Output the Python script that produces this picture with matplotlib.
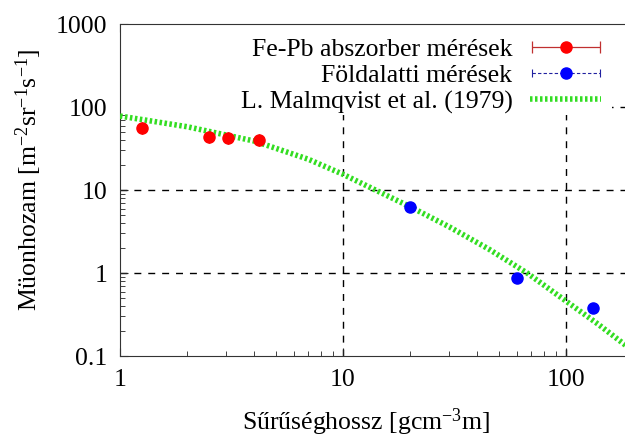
import matplotlib
matplotlib.use("Agg")
import matplotlib.pyplot as plt
from matplotlib.patches import Rectangle
from matplotlib.ticker import FixedLocator, LogLocator, NullFormatter
from matplotlib.legend_handler import HandlerErrorbar

plt.rcParams['font.family'] = ['Liberation Serif', 'DejaVu Serif']
plt.rcParams['mathtext.default'] = 'regular'

FS = 18.5

# Fe-Pb absorber measurements
fepb_x = [1.25, 2.5, 3.05, 4.2]
fepb_y = [56, 43.5, 42, 40]

# underground measurements
under_x = [20, 60, 132]
under_y = [6.2, 0.87, 0.38]

# Malmqvist et al. (1979) curve
malm_x = [1, 2, 4, 7, 10, 14, 20, 30, 45, 67, 100, 140, 200]
malm_y = [78, 58, 39, 23.5, 15.5, 10, 6.3, 3.6, 1.95, 1.0, 0.46, 0.24, 0.115]

fig = plt.figure(figsize=(6.25, 4.38), dpi=100)
ax = fig.add_axes([0.192, 0.187, 0.821, 0.758])

ax.set_xscale('log')
ax.set_yscale('log')
ax.set_xlim(1, 200)
ax.set_ylim(0.1, 1000)

ax.xaxis.set_major_locator(FixedLocator([1, 10, 100]))
ax.yaxis.set_major_locator(FixedLocator([0.1, 1, 10, 100, 1000]))
ax.xaxis.set_minor_locator(LogLocator(base=10, subs=range(2, 10)))
ax.yaxis.set_minor_locator(LogLocator(base=10, subs=range(2, 10)))
ax.xaxis.set_minor_formatter(NullFormatter())
ax.yaxis.set_minor_formatter(NullFormatter())
ax.set_xticklabels(['1', '10', '100'])
ax.set_yticklabels(['0.1', '1', '10', '100', '1000'])

ax.tick_params(which='both', direction='in', top=True, right=False,
               labelsize=FS, color='#222222')
ax.tick_params(which='major', length=6, width=0.8, pad=9)
ax.tick_params(which='minor', length=3.5, width=0.6)

for s in ax.spines.values():
    s.set_linewidth(0.8)
    s.set_color('#333333')

# dashed grid at the inner decades
for gx in [10, 100]:
    ax.axvline(gx, color='black', lw=1, ls=(0, (5, 5)), zorder=1)
for gy in [1, 10, 100]:
    ax.axhline(gy, color='black', lw=1, ls=(0, (5, 5)), zorder=1)

# white key area over the grid in the upper part
ax.add_patch(Rectangle((0.002, 0.726), 0.957, 0.272, transform=ax.transAxes,
                       facecolor='white', edgecolor='none', zorder=2))

eb1 = ax.errorbar(fepb_x, fepb_y, xerr=0, fmt='o', color='red',
                  ecolor='#c03030', elinewidth=0.9, capsize=4, capthick=0.9,
                  markersize=8, zorder=4, label='Fe-Pb abszorber mérések')
eb2 = ax.errorbar(under_x, under_y, xerr=0, fmt='o', color='blue',
                  ecolor='#2020a0', elinewidth=0.8, capsize=3, capthick=0.8,
                  markersize=8, zorder=4, label='Földalatti mérések')
eb2[2][0].set_linestyle((0, (3, 2)))

fit, = ax.plot(malm_x, malm_y, color='#33dd22', lw=4, dashes=(0.45, 0.45),
               zorder=3, label='L. Malmqvist et al. (1979)')

ax.legend(handles=[eb1, eb2, fit], loc='upper right',
          bbox_to_anchor=(0.965, 1.0), frameon=False,
          markerfirst=False, fontsize=FS, handlelength=2.75,
          labelspacing=0.12, handletextpad=0.7, borderaxespad=0.3,
          borderpad=0.25,
          handler_map={type(eb1): HandlerErrorbar(xerr_size=1.33)})

ax.set_xlabel('Sűrűséghossz [gcm$^{-3}$m]', fontsize=FS)
ax.set_ylabel('Müonhozam [m$^{-2}$sr$^{-1}$s$^{-1}$]', fontsize=FS)
ax.xaxis.set_label_coords(0.48, -0.152)
ax.yaxis.set_label_coords(-0.148, 0.53)

fig.savefig('out.png', dpi=100)
